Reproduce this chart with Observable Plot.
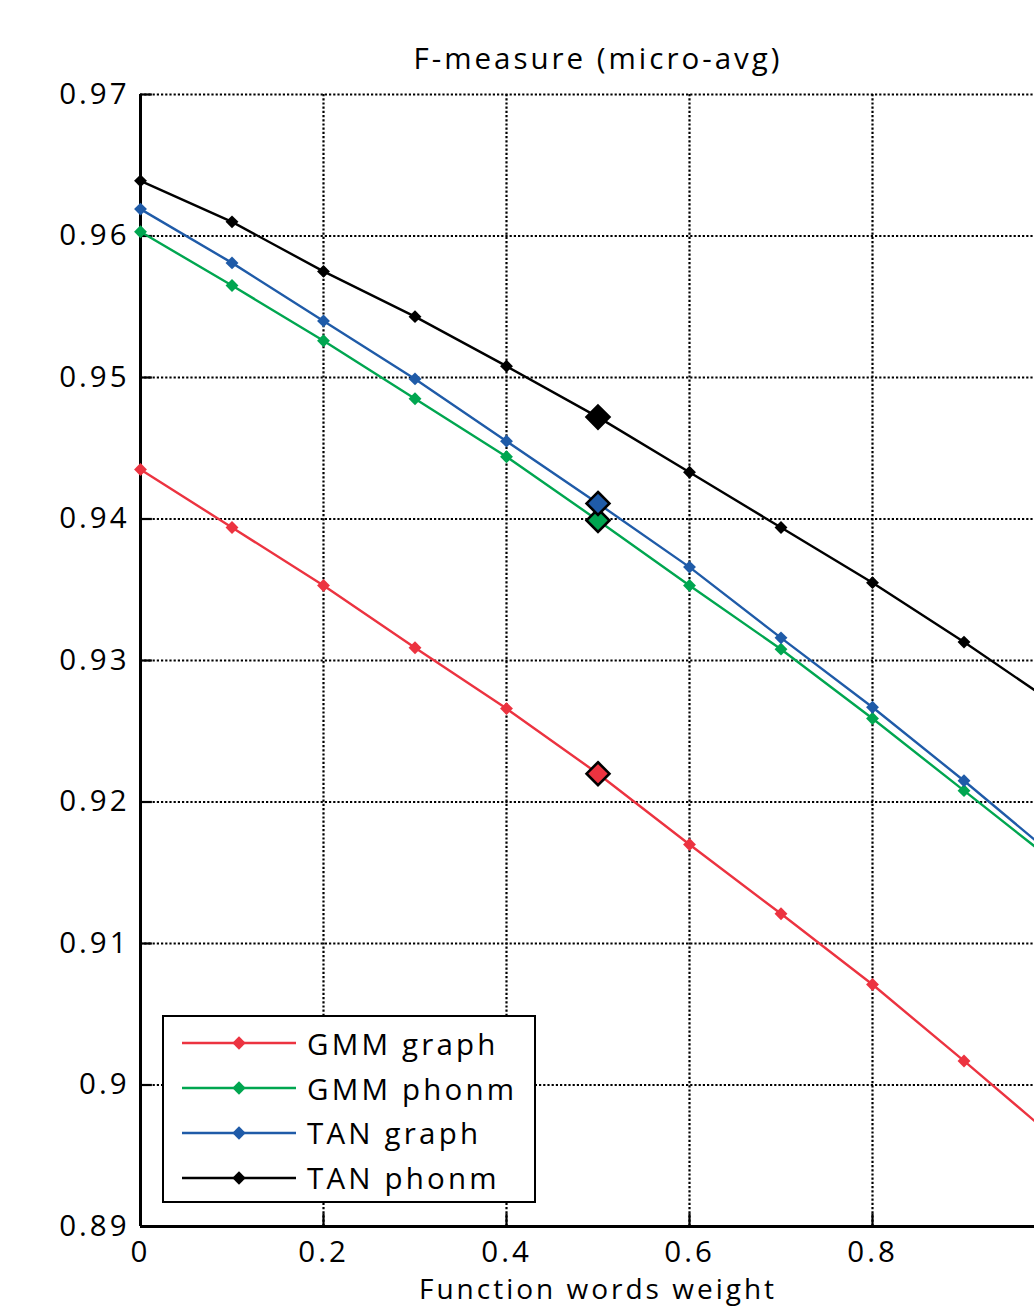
<!DOCTYPE html>
<html><head><meta charset="utf-8">
<script src="https://cdn.jsdelivr.net/npm/d3@7"></script>
<script src="https://cdn.jsdelivr.net/npm/@observablehq/plot@0.6"></script>
<style>
html,body{margin:0;padding:0;overflow:hidden;background:#fff;width:1034px;height:1306px}
#wrap{position:relative;width:1034px;height:1306px;overflow:hidden}
#legend{position:absolute;left:162px;top:1015px;width:370px;height:184px;border:2.5px solid #000;background:#fff;font-family:'Open Sans';font-size:29.5px;letter-spacing:3.2px;color:#000}
.row{position:absolute;left:0;height:44px;display:flex;align-items:center;white-space:nowrap}
.row svg{display:block;margin-left:18px;margin-right:11px}
</style>
</head><body>
<div id="wrap"><div id="chart"></div><div id="legend"></div></div>
<script>
// ---- data ----
const weights   = [0, 0.1, 0.2, 0.3, 0.4, 0.5, 0.6, 0.7, 0.8, 0.9, 1.0];
const gmmGraph  = [0.9435, 0.9394, 0.9353, 0.9309, 0.9266, 0.9220, 0.9170, 0.9121, 0.9071, 0.9017, 0.8962];
const gmmPhonm  = [0.9603, 0.9565, 0.9526, 0.9485, 0.9444, 0.9399, 0.9353, 0.9308, 0.9259, 0.9208, 0.9157];
const tanGraph  = [0.9619, 0.9581, 0.9540, 0.9499, 0.9455, 0.9411, 0.9366, 0.9316, 0.9267, 0.9215, 0.9161];
const tanPhonm  = [0.9639, 0.9610, 0.9575, 0.9543, 0.9508, 0.9472, 0.9433, 0.9394, 0.9355, 0.9313, 0.9269];
const seriesNames  = ["GMM graph", "GMM phonm", "TAN graph", "TAN phonm"];
const seriesColors = ["#ec3340", "#00a650", "#1f5ba8", "#000000"];
const highlightWeight = 0.5;
const xTicks = [0, 0.2, 0.4, 0.6, 0.8, 1];
const xTickLabels = [0, 0.2, 0.4, 0.6, 0.8];   // the label at 1 falls outside the cropped view
const yTicks = [0.89, 0.9, 0.91, 0.92, 0.93, 0.94, 0.95, 0.96, 0.97];
const title  = "F-measure (micro-avg)";
const xLabel = "Function words weight";

const seriesValues = [gmmGraph, gmmPhonm, tanGraph, tanPhonm];
const rows = seriesNames.flatMap((name, k) =>
  weights.map((w, i) => ({series: name, x: w, y: seriesValues[k][i]})));

const gridStyle = {stroke: "#000", strokeOpacity: 1, strokeDasharray: "2.2,2", strokeWidth: 2.2};

const chart = Plot.plot({
  width: 1075, height: 1306,
  marginTop: 94, marginBottom: 80, marginLeft: 140, marginRight: 20,
  style: "font-family:'Open Sans';font-size:29.5px;letter-spacing:3px;max-width:none;background:#fff;color:#000",
  x: {domain: [0, 1]},
  y: {domain: [0.89, 0.97]},
  color: {domain: seriesNames, range: seriesColors},
  marks: [
    Plot.gridX(xTicks, gridStyle),
    Plot.gridY(yTicks, gridStyle),
    Plot.ruleY(yTicks, {x1: 0, x2: 0.013, stroke: "#000", strokeWidth: 2.2}),
    Plot.ruleX(xTicks, {y1: 0.89, y2: 0.8909, stroke: "#000", strokeWidth: 2.2}),
    Plot.axisX(xTickLabels, {tickSize: 0, tickPadding: 15, tickFormat: d => String(d), label: null, fill: "#000"}),
    Plot.axisY(yTicks, {tickSize: 0, tickPadding: 11, tickFormat: d => String(d), label: null, fill: "#000"}),
    Plot.ruleX([0], {stroke: "#000", strokeWidth: 3}),
    Plot.ruleY([0.89], {stroke: "#000", strokeWidth: 3}),
    Plot.line(rows, {x: "x", y: "y", z: "series", stroke: "series", strokeWidth: 2.4}),
    Plot.dot(rows.filter(d => d.x !== highlightWeight), {x: "x", y: "y", fill: "series", symbol: "diamond2", r: 5.8}),
    Plot.dot(rows.filter(d => d.x === highlightWeight), {x: "x", y: "y", fill: "series", symbol: "diamond2", r: 10.3, stroke: "#000", strokeWidth: 2.6}),
    Plot.text([title], {frameAnchor: "top", dy: -46, fill: "#000"}),
    Plot.text([xLabel], {frameAnchor: "bottom", dy: 72, fill: "#000", fontSize: 28})
  ]
});
document.getElementById("chart").appendChild(chart);

// legend
const legend = document.getElementById("legend");
const rowCenters = [26, 71, 115.5, 160.5];
seriesNames.forEach((name, k) => {
  const row = document.createElement("div");
  row.className = "row";
  row.style.top = (rowCenters[k] - 22) + "px";
  const c = seriesColors[k];
  row.innerHTML = `<svg width="114" height="20" viewBox="0 0 114 20">
     <line x1="0" y1="10" x2="114" y2="10" stroke="${c}" stroke-width="2.4"/>
     <path d="M57,3.3 L63.7,10 L57,16.7 L50.3,10 Z" fill="${c}"/></svg><span>${name}</span>`;
  legend.appendChild(row);
});
</script>
</body></html>
